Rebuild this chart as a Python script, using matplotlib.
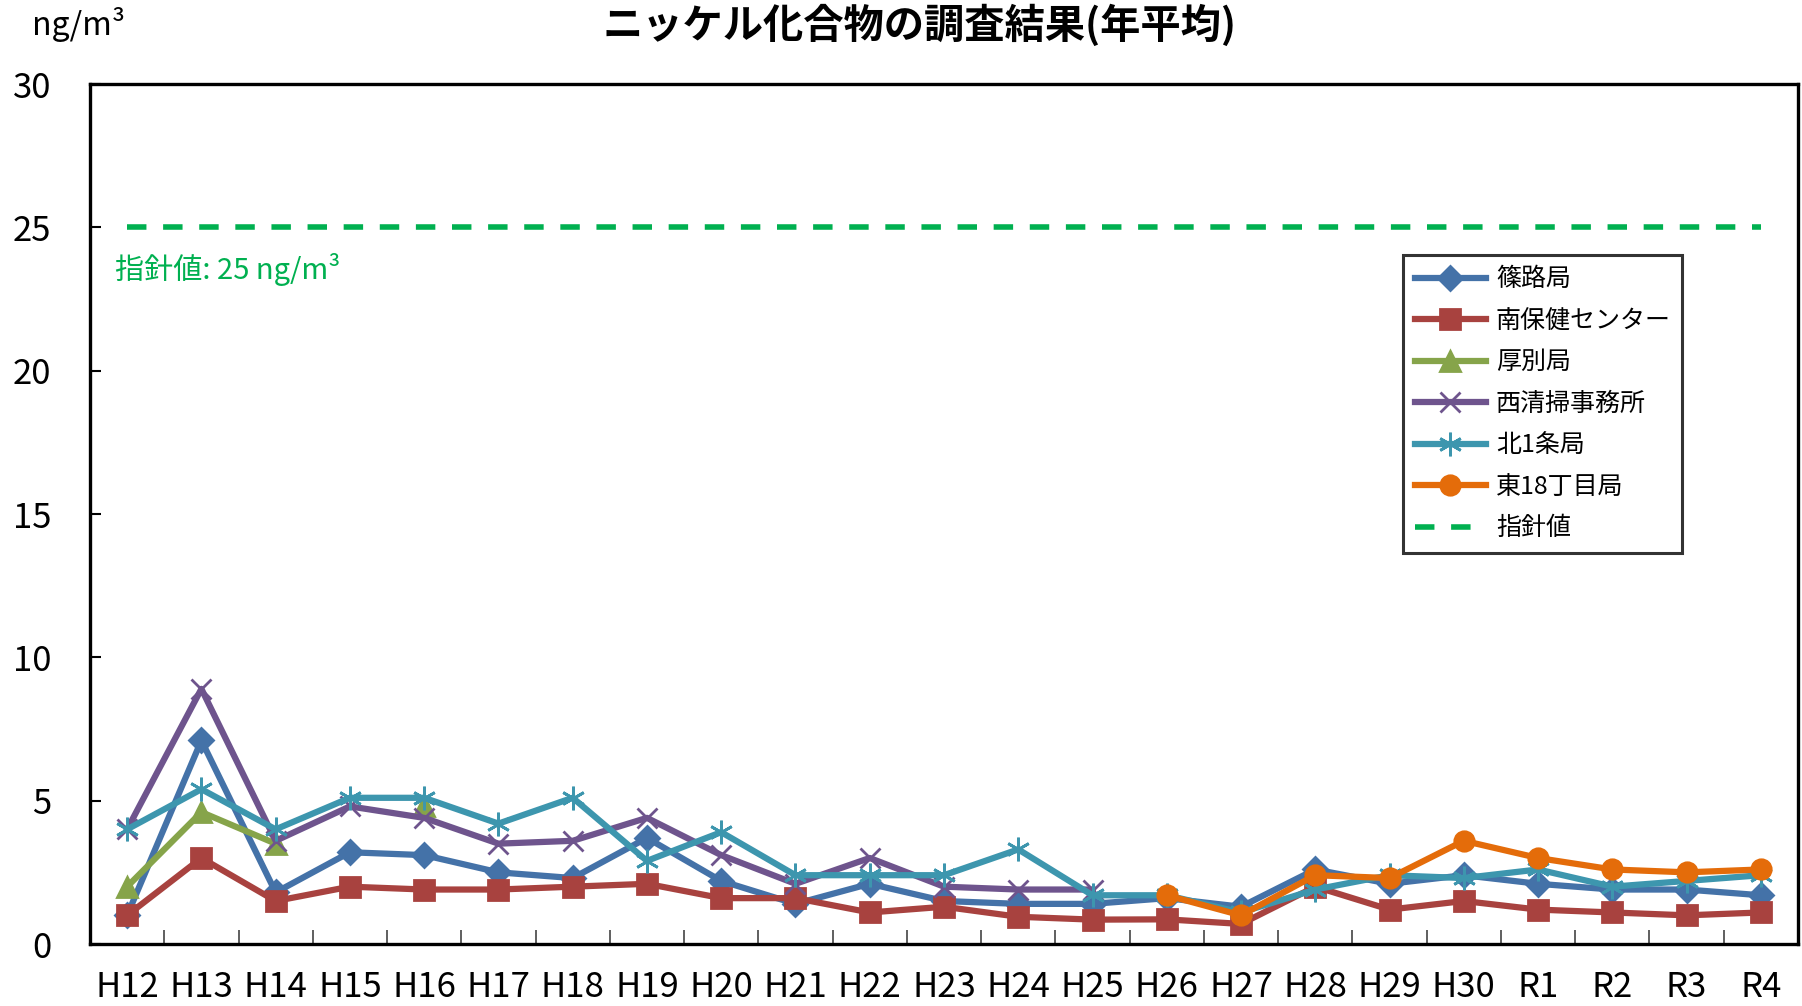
import numpy as np
import matplotlib
matplotlib.use("Agg")
import matplotlib.pyplot as plt

plt.rcParams['font.family'] = ['Noto Sans CJK JP', 'DejaVu Sans']

years = ['H12', 'H13', 'H14', 'H15', 'H16', 'H17', 'H18', 'H19', 'H20', 'H21', 'H22', 'H23',
         'H24', 'H25', 'H26', 'H27', 'H28', 'H29', 'H30', 'R1', 'R2', 'R3', 'R4']
nan = np.nan

shinoro = [1.0, 7.1, 1.8, 3.2, 3.1, 2.5, 2.3, 3.7, 2.2, 1.4, 2.1, 1.5,
           1.4, 1.4, 1.6, 1.3, 2.6, 2.1, 2.4, 2.1, 1.9, 1.9, 1.7]
minami = [1.0, 3.0, 1.5, 2.0, 1.9, 1.9, 2.0, 2.1, 1.6, 1.6, 1.1, 1.3,
          0.95, 0.85, 0.86, 0.7, 2.0, 1.2, 1.5, 1.2, 1.1, 1.0, 1.1]
atsubetsu = [2.0, 4.6, 3.5, nan, 4.8, nan, nan, nan, nan, nan, nan, nan,
             nan, nan, nan, nan, nan, nan, nan, nan, nan, nan, nan]
nishi = [4.0, 8.9, 3.6, 4.8, 4.4, 3.5, 3.6, 4.4, 3.1, 2.1, 3.0, 2.0,
         1.9, 1.9, nan, nan, nan, nan, nan, nan, nan, nan, nan]
kita1 = [4.0, 5.4, 4.0, 5.1, 5.1, 4.2, 5.1, 2.9, 3.9, 2.4, 2.4, 2.4,
         3.3, 1.7, 1.7, 1.1, 1.9, 2.4, 2.3, 2.6, 2.0, 2.2, 2.4]
higashi = [nan, nan, nan, nan, nan, nan, nan, nan, nan, nan, nan, nan,
           nan, nan, 1.7, 1.0, 2.4, 2.3, 3.6, 3.0, 2.6, 2.5, 2.6]
guideline = 25

series = [
    ('篠路局', shinoro, '#4472A8', 'D', 12),
    ('南保健センター', minami, '#A8423F', 's', 14),
    ('厚別局', atsubetsu, '#86A44A', '^', 14),
    ('西清掃事務所', nishi, '#6E548D', 'x', 15),
    ('北1条局', kita1, '#3D96AE', (6, 2, 0), 17),
    ('東18丁目局', higashi, '#E46C0A', 'o', 14),
]

W, H = 1802, 1006
fig = plt.figure(figsize=(W / 100, H / 100), dpi=100)
ax = fig.add_axes([90 / W, 1 - 944 / H, (1798 - 90) / W, (944 - 84) / H])

x = np.arange(len(years))
for name, vals, col, mk, ms in series:
    ax.plot(x, vals, color=col, lw=4.5, marker=mk, ms=ms, mew=2.0,
            mec=col, mfc=col, label=name, zorder=3)

# 指針値の破線
ax.plot([x[0], x[-1]], [guideline, guideline], color='#00B050', lw=4,
        ls=(0, (3.5, 3)), label='指針値', zorder=2)
ax.text(0.0146, 0.784, '指針値: 25 ng/m³', transform=ax.transAxes,
        color='#00B050', fontsize=21, va='center', ha='left')

ax.set_xlim(-0.5, len(years) - 0.5)
ax.set_ylim(0, 30)
ax.set_yticks(np.arange(0, 31, 5))
ax.set_xticks(x)
ax.set_xticklabels(years)
ax.set_xticks(np.arange(0.5, len(years) - 0.5, 1), minor=True)
ax.tick_params(axis='x', which='major', length=0, pad=19, labelsize=25)
ax.tick_params(axis='x', which='minor', direction='in', length=10, width=1.2, color='#444444')
ax.tick_params(axis='y', direction='in', length=8, width=1.5, pad=28, labelsize=25)
for s in ax.spines.values():
    s.set_linewidth(2.4)
    s.set_color('black')

leg = ax.legend(loc='upper left', bbox_to_anchor=(0.769, 0.801), borderaxespad=0,
                fontsize=18, frameon=True, fancybox=False, edgecolor='black',
                handlelength=2.85, labelspacing=0.62, borderpad=0.45, handletextpad=0.4)
leg.get_frame().set_linewidth(2.2)

fig.text(0.51, 1 - 38 / H, 'ニッケル化合物の調査結果(年平均)', ha='center', va='baseline',
         fontsize=29, fontweight='bold')
fig.text(32 / W, 1 - 25 / H, 'ng/m³', ha='left', va='center', fontsize=23)

fig.savefig('out.png', dpi=100, facecolor='white')
